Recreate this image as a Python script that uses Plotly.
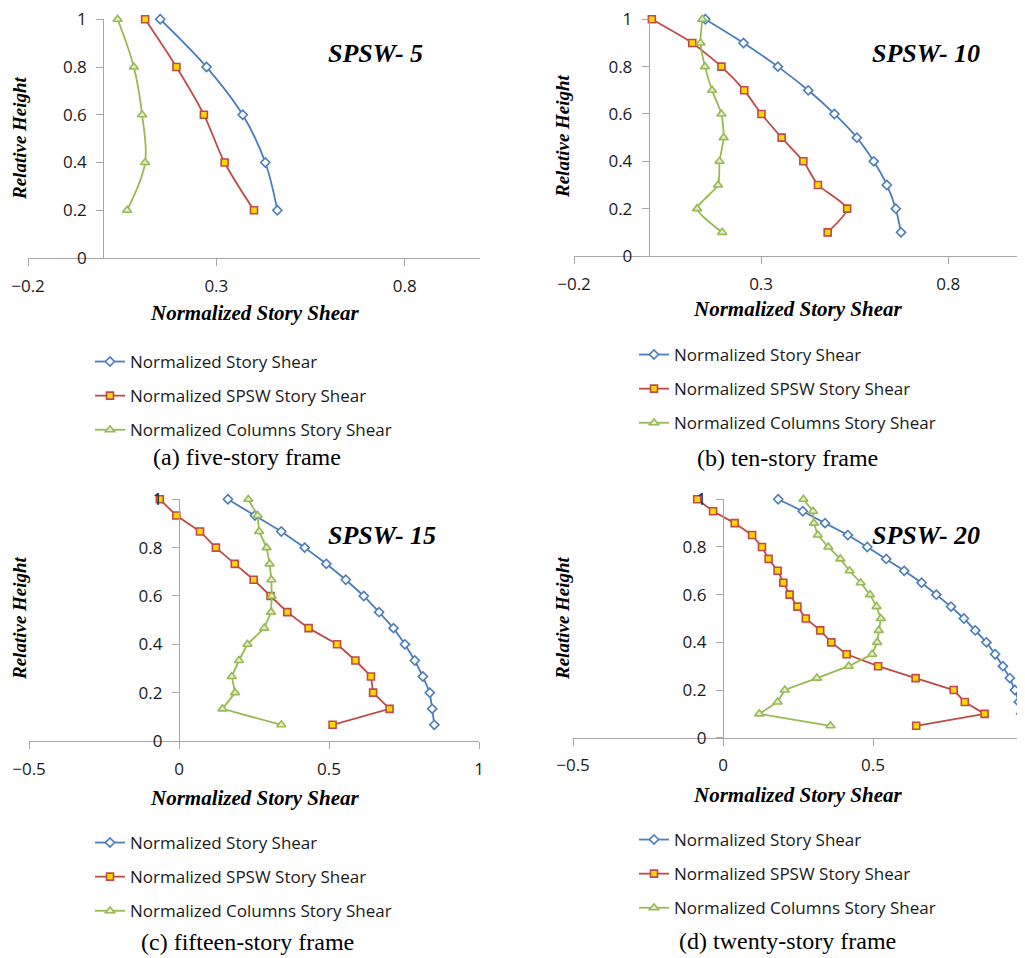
import plotly.graph_objects as go

W, H = 1025, 958
OFF = 8  # page body margin of the html page

# ---------------- data ----------------
ht5 = [1.0, 0.8, 0.6, 0.4, 0.2]
s5_total = [0.151, 0.274, 0.370, 0.430, 0.462]
s5_spsw = [0.111, 0.194, 0.267, 0.322, 0.400]
s5_cols = [0.038, 0.081, 0.103, 0.111, 0.063]

ht10 = [1.0, 0.9, 0.8, 0.7, 0.6, 0.5, 0.4, 0.3, 0.2, 0.1]
s10_total = [0.151, 0.253, 0.345, 0.426, 0.496, 0.556, 0.601, 0.636, 0.660, 0.674]
s10_spsw = [0.008, 0.116, 0.194, 0.255, 0.301, 0.355, 0.413, 0.452, 0.530, 0.478]
s10_cols = [0.143, 0.138, 0.150, 0.169, 0.194, 0.200, 0.189, 0.185, 0.129, 0.196]

ht15 = [1.0, 0.933, 0.867, 0.8, 0.733, 0.667, 0.6, 0.533, 0.467, 0.4, 0.333, 0.267, 0.2, 0.133, 0.067]
s15_total = [0.163, 0.253, 0.341, 0.419, 0.491, 0.556, 0.616, 0.667, 0.715, 0.753, 0.786, 0.813, 0.836, 0.844, 0.851]
s15_spsw = [-0.064, -0.009, 0.070, 0.123, 0.186, 0.249, 0.305, 0.361, 0.432, 0.527, 0.588, 0.640, 0.647, 0.702, 0.512]
s15_cols = [0.231, 0.262, 0.267, 0.292, 0.302, 0.308, 0.309, 0.307, 0.284, 0.228, 0.200, 0.176, 0.187, 0.145, 0.341]

ht20 = [1.0, 0.95, 0.9, 0.85, 0.8, 0.75, 0.7, 0.65, 0.6, 0.55, 0.5, 0.45, 0.4, 0.35, 0.3, 0.25, 0.2, 0.15, 0.1, 0.05]
s20_total = [0.184, 0.266, 0.340, 0.416, 0.481, 0.544, 0.604, 0.662, 0.711, 0.760, 0.803, 0.841, 0.878, 0.907, 0.933, 0.956, 0.973, 0.986, 0.994, 1.000]
s20_spsw = [-0.086, -0.033, 0.039, 0.097, 0.130, 0.152, 0.182, 0.201, 0.222, 0.248, 0.276, 0.324, 0.361, 0.412, 0.517, 0.642, 0.769, 0.806, 0.872, 0.644]
s20_cols = [0.268, 0.300, 0.303, 0.316, 0.351, 0.391, 0.422, 0.459, 0.490, 0.512, 0.526, 0.519, 0.514, 0.497, 0.419, 0.313, 0.206, 0.182, 0.121, 0.358]

series_names = ["Normalized Story Shear", "Normalized SPSW Story Shear", "Normalized Columns Story Shear"]
panel_labels = ["SPSW- 5", "SPSW- 10", "SPSW- 15", "SPSW- 20"]
captions = ["(a) five-story frame", "(b) ten-story frame", "(c) fifteen-story frame", "(d) twenty-story frame"]
x_title = "Normalized Story Shear"
y_title = "Relative Height"

# ---------------- layout geometry (window pixels) ----------------
panels = [
    dict(h=ht5, d=[s5_total, s5_spsw, s5_cols], px=(28, 480), py=(19.3, 258), xr=(-0.2, 1.0), t0=-0.2,
         shape="spline", sm=1.0, lab=(375, 54), ytit=(19, 138), xtit=(255, 313), leg=(90, 344), cap=(247, 457)),
    dict(h=ht10, d=[s10_total, s10_spsw, s10_cols], px=(574, 1023), py=(19.3, 256), xr=(-0.2, 1.0), t0=-0.2,
         shape="spline", sm=0.6, lab=(926, 54), ytit=(562, 136), xtit=(798, 309), leg=(634, 337), cap=(787, 458)),
    dict(h=ht15, d=[s15_total, s15_spsw, s15_cols], px=(29, 479), py=(499.3, 741), xr=(-0.5, 1.0), t0=-0.5,
         shape="linear", sm=0, lab=(382, 535), ytit=(19, 618), xtit=(255, 798), leg=(90, 825), cap=(247, 942)),
    dict(h=ht20, d=[s20_total, s20_spsw, s20_cols], px=(573, 1023), py=(499.3, 737.7), xr=(-0.5, 1.0), t0=-0.5,
         shape="linear", sm=0, lab=(926, 535), ytit=(562, 618), xtit=(798, 795), leg=(634, 822), cap=(787, 941)),
]

BLUE, RED, GREEN = "#4A7EBB", "#BE4B48", "#98B954"
styles = [
    dict(line=BLUE, sym="diamond", fill="white", size=7),
    dict(line=RED, sym="square", fill="#FFD700", size=7),
    dict(line=GREEN, sym="triangle-up", fill="#E4EDCF", size=8),
]

AX = "#A6A6A6"
TICKFONT = dict(family="Open Sans", size=17, color="#1a1a1a")
SERIF_BI = dict(family="Liberation Serif", size=21, color="black", weight="bold", style="italic")
YTIT_FONT = dict(family="Liberation Serif", size=19, color="black", weight="bold", style="italic")

fig = go.Figure()
layout = dict(width=W, height=H, margin=dict(l=0, r=0, t=0, b=0, autoexpand=False),
              paper_bgcolor="white", plot_bgcolor="white", showlegend=True, annotations=[])

def fx(p):
    return (p - OFF) / W

def fy(p):
    return 1 - (p - OFF) / H

for i, P in enumerate(panels):
    n = "" if i == 0 else str(i + 1)
    leg = "legend" if i == 0 else f"legend{i + 1}"
    for k in range(3):
        st = styles[k]
        line = dict(color=st["line"], width=1.8, shape=P["shape"])
        if P["shape"] == "spline":
            line["smoothing"] = P["sm"]
        fig.add_trace(go.Scatter(
            x=P["d"][k], y=P["h"], mode="lines+markers", name=series_names[k],
            xaxis="x" + n, yaxis="y" + n, legend=leg, legendgroup=f"g{i}{k}",
            line=line,
            marker=dict(symbol=st["sym"], size=st["size"], color=st["fill"],
                        line=dict(color=st["line"], width=1.6)),
            cliponaxis=False,
        ))
    x0, x1 = P["px"]
    y0, y1 = P["py"]
    xmin, xmax = P["xr"]
    ypos = fx(x0 + (0 - xmin) / (xmax - xmin) * (x1 - x0))
    layout["xaxis" + n] = dict(
        domain=[fx(x0), fx(x1)], range=list(P["xr"]), anchor="y" + n, automargin=False,
        tick0=P["t0"], dtick=0.5, showgrid=False, zeroline=False,
        showline=True, linecolor=AX, linewidth=1.2, ticks="outside", ticklen=7,
        tickcolor=AX, tickfont=TICKFONT, ticklabelstandoff=5, ticklabeloverflow="allow",
    )
    layout["yaxis" + n] = dict(
        domain=[fy(y1), fy(y0)], range=[0, 1], anchor="free", position=ypos, automargin=False,
        dtick=0.2, showgrid=False, zeroline=False,
        showline=True, linecolor=AX, linewidth=1.2, ticks="outside", ticklen=7,
        tickcolor=AX, tickfont=TICKFONT, ticklabelstandoff=6, ticklabeloverflow="allow",
    )
    layout[leg] = dict(
        x=fx(P["leg"][0]), y=fy(P["leg"][1]), xanchor="left", yanchor="top",
        font=dict(family="Open Sans", size=17, color="#1a1a1a"),
        bgcolor="rgba(0,0,0,0)", tracegroupgap=9, itemwidth=30, traceorder="grouped",
    )
    layout["annotations"] += [
        dict(text=panel_labels[i], x=fx(P["lab"][0]), y=fy(P["lab"][1]), xref="paper", yref="paper",
             showarrow=False, xanchor="center", yanchor="middle",
             font=dict(family="Liberation Serif", size=26, color="black", weight="bold", style="italic")),
        dict(text=y_title, x=fx(P["ytit"][0]), y=fy(P["ytit"][1]), xref="paper", yref="paper",
             showarrow=False, xanchor="center", yanchor="middle", textangle=-90, font=YTIT_FONT),
        dict(text=x_title, x=fx(P["xtit"][0]), y=fy(P["xtit"][1]), xref="paper", yref="paper",
             showarrow=False, xanchor="center", yanchor="middle", font=SERIF_BI),
        dict(text=captions[i], x=fx(P["cap"][0]), y=fy(P["cap"][1]), xref="paper", yref="paper",
             showarrow=False, xanchor="center", yanchor="middle",
             font=dict(family="Liberation Serif", size=24, color="black")),
    ]

fig.update_layout(**layout)
fig.write_html("out.html")
